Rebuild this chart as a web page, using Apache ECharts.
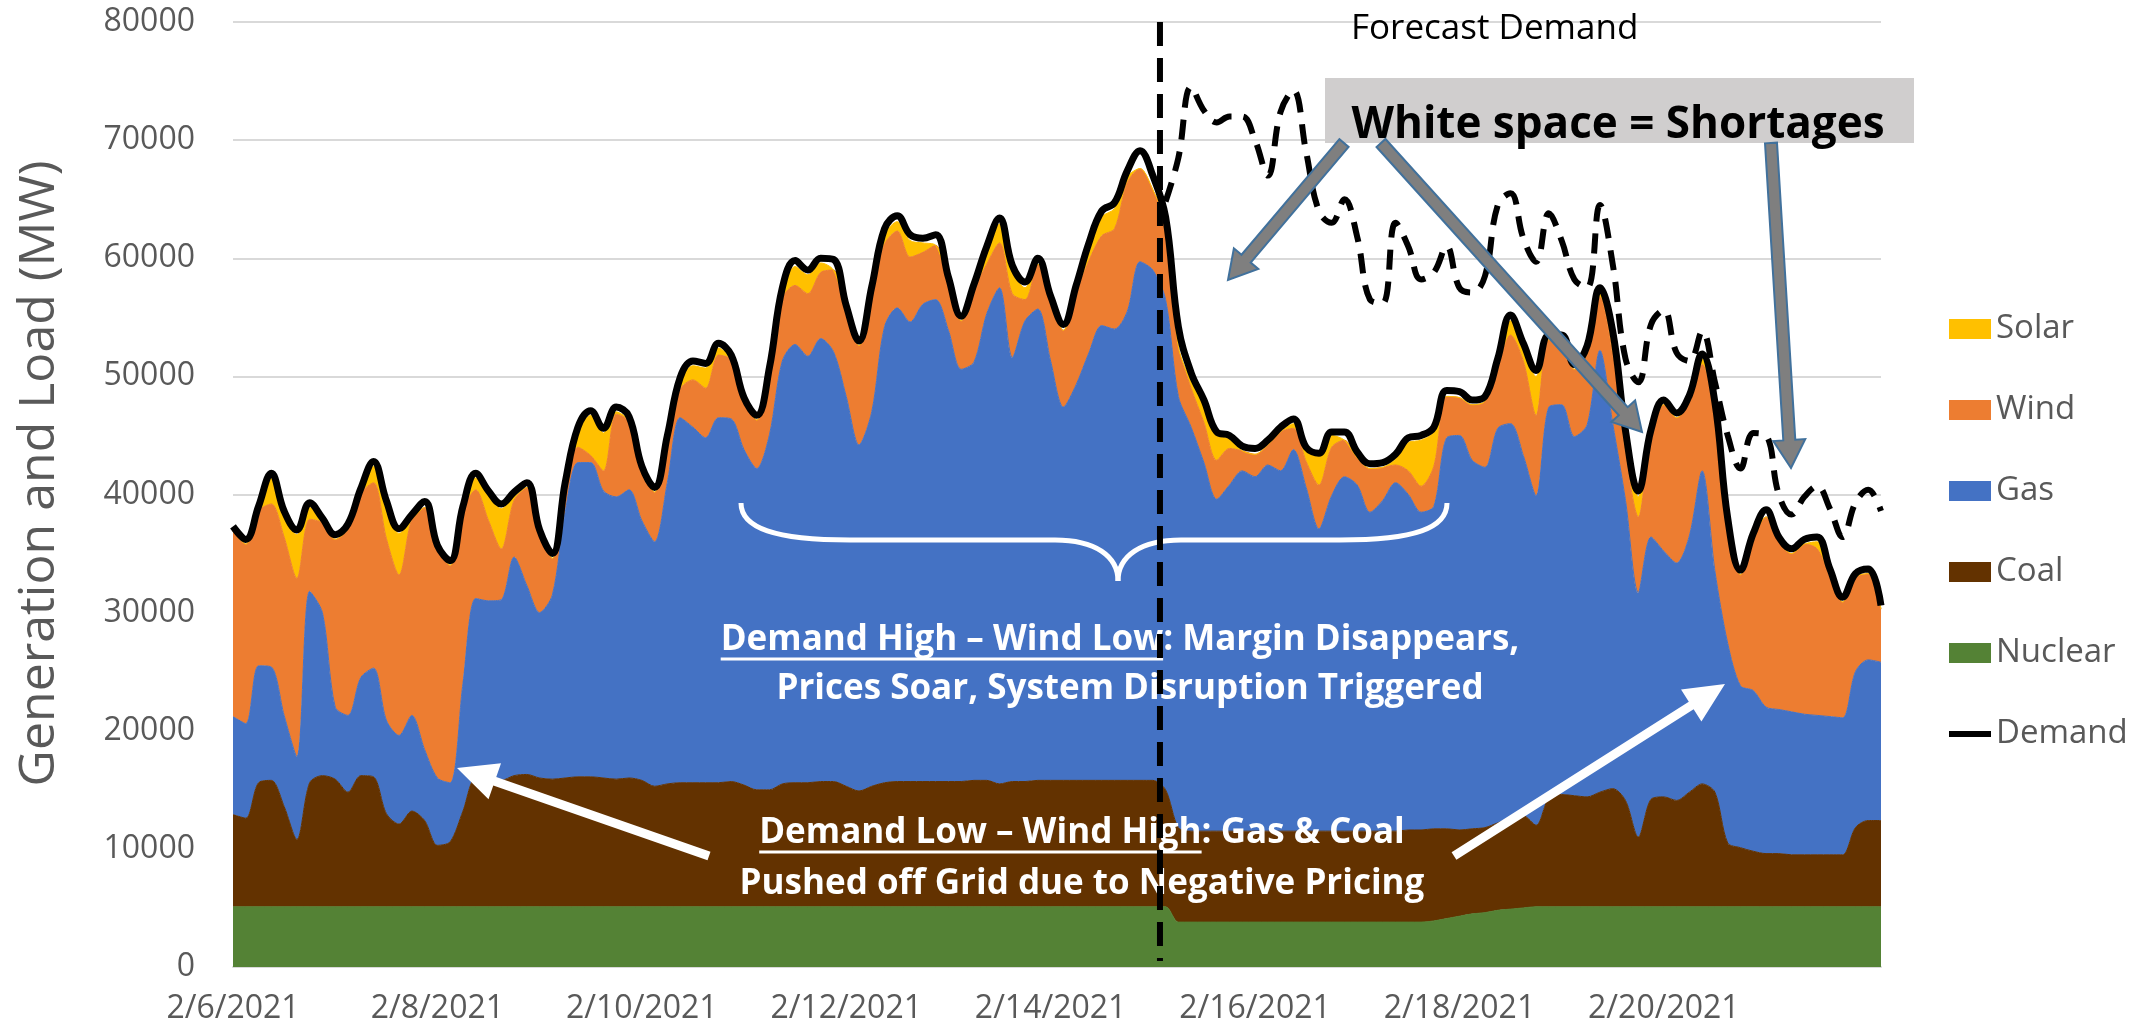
<!DOCTYPE html>
<html>
<head>
<meta charset="utf-8">
<title>Generation and Load, February 2021</title>
<script src="https://cdn.jsdelivr.net/npm/echarts@6/dist/echarts.min.js"></script>
<style>
  html, body { margin: 0; padding: 0; background: #fff; }
  #main { width: 2150px; height: 1032px; }
</style>
</head>
<body>
<div id="main"></div>
<script>
// 3-hourly readings, 2/6/2021 0:00 (index 0) .. 2/22/2021 3:00 (index 129), MW
var days = ['2/6/2021', '2/7/2021', '2/8/2021', '2/9/2021', '2/10/2021', '2/11/2021', '2/12/2021', '2/13/2021',
    '2/14/2021', '2/15/2021', '2/16/2021', '2/17/2021', '2/18/2021', '2/19/2021', '2/20/2021', '2/21/2021', '2/22/2021'];
var hours = ['0:00', '3:00', '6:00', '9:00', '12:00', '15:00', '18:00', '21:00'];
var tickLabels = ['2/6/2021', '2/8/2021', '2/10/2021', '2/12/2021', '2/14/2021', '2/16/2021', '2/18/2021', '2/20/2021'];
var yTicks = [0, 10000, 20000, 30000, 40000, 50000, 60000, 70000, 80000];

var nuclear = [
    5100, 5100, 5100, 5100, 5100, 5100, 5100, 5100,
    5100, 5100, 5100, 5100, 5100, 5100, 5100, 5100,
    5100, 5100, 5100, 5100, 5100, 5100, 5100, 5100,
    5100, 5100, 5100, 5100, 5100, 5100, 5100, 5100,
    5100, 5100, 5100, 5100, 5100, 5100, 5100, 5100,
    5100, 5100, 5100, 5100, 5100, 5100, 5100, 5100,
    5100, 5100, 5100, 5100, 5100, 5100, 5100, 5100,
    5100, 5100, 5100, 5100, 5100, 5100, 5100, 5100,
    5100, 5100, 5100, 5100, 5100, 5100, 5100, 5100,
    5100, 5100, 3800, 3800, 3800, 3800, 3800, 3800,
    3800, 3800, 3800, 3800, 3800, 3800, 3800, 3800,
    3800, 3800, 3800, 3800, 3800, 3800, 3900, 4100,
    4300, 4500, 4600, 4800, 4900, 5000, 5100, 5100,
    5100, 5100, 5100, 5100, 5100, 5100, 5100, 5100,
    5100, 5100, 5100, 5100, 5100, 5100, 5100, 5100,
    5100, 5100, 5100, 5100, 5100, 5100, 5100, 5100,
    5100, 5100
];
var coal = [
    7800, 7500, 10500, 10700, 8500, 5700, 10500, 11100,
    10800, 9700, 11100, 11000, 7900, 7000, 8100, 7300,
    5200, 5500, 8100, 10900, 10900, 10700, 11100, 11200,
    10900, 10800, 10900, 11000, 11000, 10900, 10800, 10900,
    10700, 10200, 10400, 10500, 10500, 10500, 10500, 10600,
    10300, 9900, 9900, 10400, 10500, 10500, 10600, 10600,
    10200, 9800, 10200, 10500, 10600, 10600, 10600, 10600,
    10600, 10600, 10700, 10700, 10400, 10600, 10600, 10700,
    10700, 10700, 10700, 10700, 10700, 10700, 10700, 10700,
    10700, 9900, 8000, 7700, 7700, 7700, 7700, 7700,
    7700, 7700, 7700, 7700, 7700, 7700, 7700, 7700,
    7700, 7700, 7700, 7700, 7800, 7800, 7800, 7600,
    7300, 7200, 7200, 7400, 7700, 7800, 6900, 9200,
    9500, 9400, 9300, 9700, 10000, 9000, 5900, 9100,
    9300, 9000, 9700, 10400, 9700, 5400, 5000, 4700,
    4500, 4500, 4400, 4400, 4400, 4400, 4400, 6700,
    7300, 7300
];
var gas = [
    8300, 8000, 9900, 9600, 7700, 7000, 16200, 13800,
    6100, 6500, 8300, 9200, 7900, 7500, 8100, 6000,
    5700, 5000, 10800, 15200, 15000, 15300, 18500, 16000,
    14000, 15600, 22500, 26600, 26600, 24300, 23900, 24400,
    22000, 20700, 25500, 30900, 30100, 29200, 30900, 30700,
    28400, 27200, 30100, 35800, 37100, 36100, 37500, 36400,
    33000, 29300, 31700, 38600, 40100, 38900, 40400, 40800,
    38200, 34900, 35400, 39500, 42000, 35900, 39000, 39900,
    35500, 31600, 33500, 36200, 38500, 38200, 39700, 43900,
    43200, 41500, 36500, 34200, 31200, 28100, 29300, 30500,
    30000, 31000, 30500, 32300, 29100, 25600, 28400, 30000,
    29300, 27000, 28000, 29500, 28400, 26900, 27300, 33100,
    33400, 31200, 30500, 33400, 33400, 30500, 27900, 33100,
    33000, 30400, 31500, 37400, 30900, 25400, 20700, 22200,
    20800, 20100, 21700, 26500, 18700, 16900, 13700, 13600,
    12400, 12200, 12100, 11900, 11800, 11700, 11600, 13200,
    13600, 13400
];
var wind = [
    15700, 15200, 13100, 13800, 15100, 15100, 6100, 7600,
    14200, 15800, 15600, 15700, 15400, 13600, 16600, 20500,
    19300, 18400, 14600, 9200, 6800, 4300, 4800, 8300,
    6600, 3100, 1500, 1300, 600, 1700, 7000, 5800,
    4100, 4200, 3600, 2400, 4000, 4200, 5300, 5000,
    4000, 4100, 5300, 5300, 5000, 5300, 5600, 6900,
    7300, 8400, 10200, 7000, 6500, 5500, 4400, 4600,
    3900, 4100, 6100, 4200, 3800, 5400, 1800, 3800,
    5000, 6500, 7700, 7800, 7600, 8500, 10900, 7900,
    6800, 6500, 4200, 3300, 3400, 3300, 3100, 1700,
    1900, 1700, 3300, 1800, 2200, 3700, 4100, 3100,
    2300, 3700, 2800, 1500, 2000, 2200, 3400, 3500,
    3200, 4700, 5600, 5000, 7500, 8000, 6800, 5700,
    5200, 5700, 6100, 4500, 5800, 3900, 6400, 8700,
    12400, 12300, 11400, 9000, 13000, 9500, 9400, 12900,
    16100, 14200, 13400, 14400, 14100, 11800, 9800, 8000,
    7300, 4500
];
var solar = [
    0, 0, 0, 2200, 1800, 3700, 1000, 0,
    0, 0, 0, 1400, 2800, 3500, 0, 0,
    0, 0, 0, 1000, 2100, 3400, 300, 0,
    0, 0, 500, 1300, 3400, 3200, 200, 0,
    0, 0, 0, 600, 1200, 1700, 600, 0,
    0, 0, 0, 500, 1600, 1600, 800, 0,
    0, 0, 0, 800, 800, 1400, 800, 0,
    0, 0, 0, 1000, 1600, 1900, 1000, 0,
    0, 0, 0, 1000, 1600, 1700, 500, 0,
    0, 0, 0, 600, 1400, 2100, 800, 0,
    0, 0, 0, 400, 900, 2400, 1000, 0,
    0, 0, 0, 500, 2400, 3900, 2900, 0,
    0, 0, 0, 500, 1200, 1000, 3300, 0,
    0, 0, 0, 300, 1500, 1500, 1700, 0,
    0, 0, 0, 500, 800, 700, 0, 0,
    0, 0, 0, 0, 600, 300, 0, 0,
    0, 0
];
var demand = [
    37300, 36200, 39000, 41800, 38600, 37000, 39300, 38000,
    36600, 37500, 40500, 42800, 39500, 37100, 38300, 39400,
    35700, 34400, 39000, 41800, 40300, 39200, 40200, 41000,
    37000, 35000, 41000, 45700, 47100, 45600, 47400, 46600,
    42400, 40600, 45000, 49900, 51300, 51100, 52800, 51800,
    48200, 46700, 50800, 57500, 59800, 59000, 60000, 59900,
    56000, 53000, 57600, 62500, 63600, 62000, 61700, 62000,
    58400, 55100, 57800, 61000, 63400, 59400, 58000, 60000,
    56800, 54400, 57700, 61300, 64000, 64700, 67400, 69100,
    67000, 63500, 54200, 50300, 48000, 45300, 45000, 44100,
    43900, 44600, 45700, 46400, 44000, 43500, 45300, 45300,
    43600, 42600, 42700, 43400, 44800, 45000, 45700, 48800,
    48700, 48000, 48300, 51500, 55200, 52800, 50500, 53500,
    53500, 51000, 52600, 57500, 53800, 45400, 40300, 45500,
    48000, 46900, 48400, 51900, 47800, 38000, 33600, 36700,
    38700, 36400, 35400, 36200, 36400, 33700, 31300, 33300,
    33700, 30600
];
// forecast demand starts at index 73 (2/15 3:00)
var forecastStart = 73;
var forecast = [
    64800, 68500, 74500, 72500, 71500, 72000, 72000,
    70000, 67000, 72400, 74200, 69000, 64000, 63000, 65000,
    61800, 56500, 56200, 63000, 61000, 58200, 58800, 61000,
    57500, 57100, 58500, 64500, 65500, 61700, 59700, 63800,
    61500, 58200, 57500, 64500, 59500, 51500, 49500, 54400,
    55600, 52000, 51300, 53800, 49500, 45000, 42200, 45200,
    45000, 40000, 38300, 39800, 40700, 38800, 36400, 39300,
    40400, 38600
];
// load shedding begins ~2/15 1:40 -> index 72.56
var cutIndex = 72.56;

var times = [];
for (var i = 0; i < demand.length; i++) {
    times.push(days[Math.floor(i / 8)] + ' ' + hours[i % 8]);
}
var forecastData = demand.map(function (v, i) {
    return i < forecastStart ? '-' : forecast[i - forecastStart];
});

var labelFont = '"Open Sans", "DejaVu Sans", sans-serif';
var grey = '#595959';

function area(name, data, color) {
    return {
        name: name,
        type: 'line',
        stack: 'gen',
        data: data,
        smooth: 0.3,
        symbol: 'none',
        lineStyle: { width: 1, color: color },
        itemStyle: { color: color },
        areaStyle: { color: color, opacity: 1 },
        emphasis: { disabled: true }
    };
}

var myChart = echarts.init(document.getElementById('main'));
var option = {
    animation: false,
    backgroundColor: '#fff',
    grid: { left: 233, right: 269, top: 22, bottom: 65, containLabel: false, outerBoundsMode: 'none' },
    legend: {
        orient: 'vertical',
        left: 1944,
        top: 304,
        itemWidth: 42,
        itemHeight: 20,
        itemGap: 41,
        textStyle: { color: grey, fontSize: 33, fontFamily: labelFont, lineHeight: 40 },
        data: [
            { name: 'Solar', icon: 'rect' },
            { name: 'Wind', icon: 'rect' },
            { name: 'Gas', icon: 'rect' },
            { name: 'Coal', icon: 'rect' },
            { name: 'Nuclear', icon: 'rect' },
            { name: 'Demand', icon: 'path://M0,0 H42 V6 H0 Z' }
        ]
    },
    xAxis: {
        type: 'category',
        data: times,
        boundaryGap: false,
        axisLine: { lineStyle: { color: '#D9D9D9', width: 2 } },
        axisTick: { show: false },
        axisLabel: {
            color: grey,
            fontSize: 32,
            fontFamily: labelFont,
            margin: 26,
            interval: function (index, value) {
                return index % 8 === 0 && tickLabels.indexOf(value.split(' ')[0]) >= 0;
            },
            formatter: function (value) { return value.split(' ')[0]; }
        },
        splitLine: { show: false }
    },
    yAxis: {
        type: 'value',
        min: yTicks[0],
        max: yTicks[yTicks.length - 1],
        interval: yTicks[1] - yTicks[0],
        name: 'Generation and Load (MW)',
        nameLocation: 'middle',
        nameGap: 168,
        nameTextStyle: { color: grey, fontSize: 50, fontFamily: labelFont, padding: [0, 0, 0, 42] },
        axisLine: { show: false },
        axisTick: { show: false },
        axisLabel: {
            color: grey, fontSize: 32, fontFamily: labelFont, margin: 38,
            formatter: function (v) { return String(v); }
        },
        splitLine: { lineStyle: { color: '#D9D9D9', width: 2 } }
    },
    series: [
        area('Nuclear', nuclear, '#548235'),
        area('Coal', coal, '#633200'),
        area('Gas', gas, '#4472C4'),
        area('Wind', wind, '#ED7D31'),
        area('Solar', solar, '#FFC000'),
        {
            name: 'Demand',
            type: 'line',
            data: demand,
            smooth: 0.4,
            symbol: 'none',
            z: 5,
            itemStyle: { color: '#000' },
            lineStyle: { color: '#000', width: 7 },
            emphasis: { disabled: true }
        },
        {
            name: 'Forecast Demand',
            type: 'line',
            data: forecastData,
            smooth: 0.4,
            symbol: 'none',
            z: 5,
            itemStyle: { color: '#000' },
            lineStyle: { color: '#000', width: 6, type: [20, 12] },
            emphasis: { disabled: true }
        }
    ]
};
myChart.setOption(option);

// ---- annotations ----
var ctx = document.createElement('canvas').getContext('2d');
function textWidth(text, font) {
    ctx.font = font;
    return ctx.measureText(text).width;
}

function arrowPoints(x1, y1, x2, y2, w, hl, hw) {
    var dx = x2 - x1, dy = y2 - y1;
    var len = Math.sqrt(dx * dx + dy * dy);
    var ux = dx / len, uy = dy / len, px = -uy, py = ux;
    var bx = x2 - ux * hl, by = y2 - uy * hl;
    return [
        [x1 + px * w / 2, y1 + py * w / 2],
        [bx + px * w / 2, by + py * w / 2],
        [bx + px * hw / 2, by + py * hw / 2],
        [x2, y2],
        [bx - px * hw / 2, by - py * hw / 2],
        [bx - px * w / 2, by - py * w / 2],
        [x1 - px * w / 2, y1 - py * w / 2]
    ];
}

var noteFont = 'bold 35px "Open Sans"';
var notes = [
    { u: 'Demand High \u2013 Wind Low', rest: ': Margin Disappears,', cx: 1120, cy: 640 },
    { u: '', rest: 'Prices Soar, System Disruption Triggered', cx: 1130, cy: 689 },
    { u: 'Demand Low \u2013 Wind High', rest: ': Gas & Coal', cx: 1082, cy: 833 },
    { u: '', rest: 'Pushed off Grid due to Negative Pricing', cx: 1082, cy: 884 }
];

var elements = [];
notes.forEach(function (n) {
    var full = n.u + n.rest;
    var w = textWidth(full, noteFont);
    var x0 = n.cx - w / 2;
    elements.push({
        type: 'text', z: 20,
        style: { text: full, x: x0, y: n.cy, font: noteFont, fill: '#fff', textAlign: 'left', textVerticalAlign: 'middle' }
    });
    if (n.u) {
        elements.push({
            type: 'line', z: 20,
            shape: { x1: x0, y1: n.cy + 19, x2: x0 + textWidth(n.u, noteFont), y2: n.cy + 19 },
            style: { stroke: '#fff', lineWidth: 3 }
        });
    }
});

// curly brace over the high-demand stretch
var braceStyle = { stroke: '#fff', lineWidth: 5, fill: null };
[
    { x1: 741, y1: 503, cpx1: 741, cpy1: 528, cpx2: 775, cpy2: 540, x2: 850, y2: 540 },
    { x1: 1055, y1: 540, cpx1: 1095, cpy1: 540, cpx2: 1118, cpy2: 556, x2: 1118, y2: 581 },
    { x1: 1118, y1: 581, cpx1: 1118, cpy1: 556, cpx2: 1141, cpy2: 540, x2: 1181, y2: 540 },
    { x1: 1340, y1: 540, cpx1: 1415, cpy1: 540, cpx2: 1447, cpy2: 528, x2: 1447, y2: 503 }
].forEach(function (s) {
    elements.push({ type: 'bezierCurve', z: 20, shape: s, style: braceStyle });
});
[[850, 1055], [1181, 1340]].forEach(function (s) {
    elements.push({ type: 'line', z: 20, shape: { x1: s[0], y1: 540, x2: s[1], y2: 540 }, style: braceStyle });
});

// white arrows
[[709, 856, 457, 768], [1454, 856, 1725, 684]].forEach(function (a) {
    elements.push({
        type: 'polygon', z: 21,
        shape: { points: arrowPoints(a[0], a[1], a[2], a[3], 9, 40, 38) },
        style: { fill: '#fff' }
    });
});

// vertical dashed cut-over line
var xa = myChart.convertToPixel({ xAxisIndex: 0 }, 72);
var xb = myChart.convertToPixel({ xAxisIndex: 0 }, 73);
var xcut = xa + (xb - xa) * (cutIndex - 72);
var yTop = myChart.convertToPixel({ yAxisIndex: 0 }, yTicks[yTicks.length - 1]);
var yBottom = myChart.convertToPixel({ yAxisIndex: 0 }, 0);
elements.push({
    type: 'line', z: 22,
    shape: { x1: xcut, y1: yTop, x2: xcut, y2: yBottom - 6 },
    style: { stroke: '#000', lineWidth: 6, lineDash: [24, 12] }
});

// grey callout box
elements.push({
    type: 'rect', z: 23,
    shape: { x: 1325, y: 78, width: 589, height: 65 },
    style: { fill: '#D0CECE' }
});
elements.push({
    type: 'text', z: 24,
    style: { text: 'White space = Shortages', x: 1618, y: 125, font: 'bold 44px "Open Sans"', fill: '#000',
        textAlign: 'center', textVerticalAlign: 'middle' }
});
elements.push({
    type: 'text', z: 24,
    style: { text: 'Forecast Demand', x: 1351, y: 29, font: '35px "Open Sans"', fill: '#000',
        textAlign: 'left', textVerticalAlign: 'middle' }
});

// grey arrows from the callout
[[1344, 143, 1228, 280], [1381, 143, 1642, 432], [1771, 143, 1791, 468]].forEach(function (a) {
    elements.push({
        type: 'polygon', z: 25,
        shape: { points: arrowPoints(a[0], a[1], a[2], a[3], 12, 28, 32) },
        style: { fill: '#7F7F7F', stroke: '#41719C', lineWidth: 2 }
    });
});

myChart.setOption({ graphic: { elements: elements } });

window.addEventListener('resize', function () {
    myChart.resize();
});
</script>
</body>
</html>
